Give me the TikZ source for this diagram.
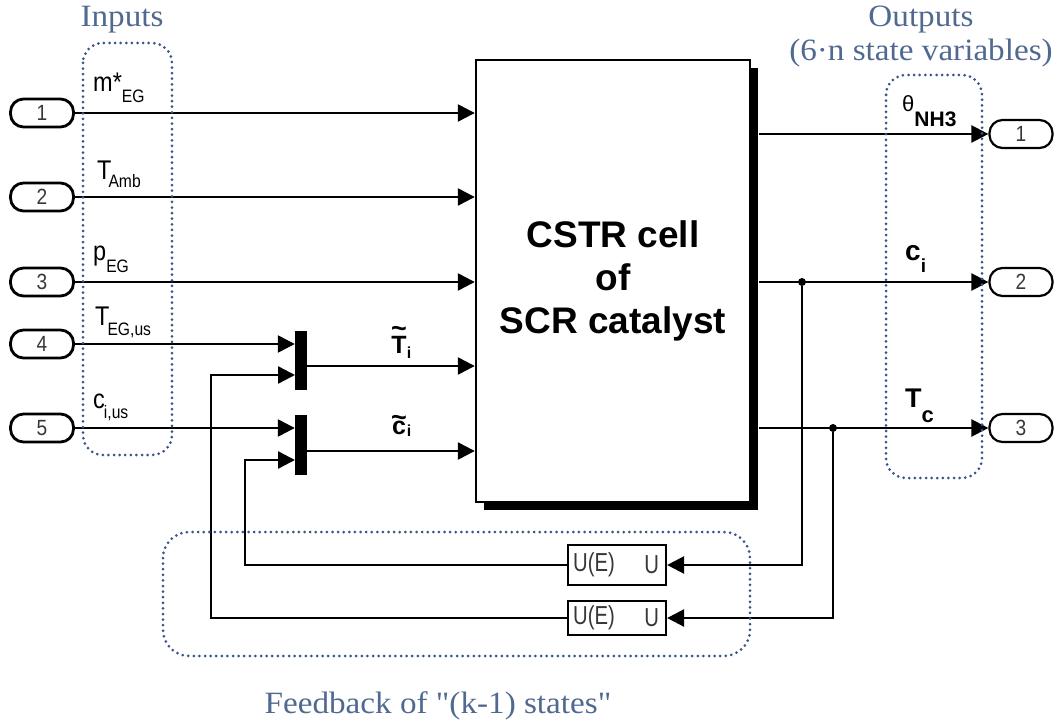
\documentclass[tikz,border=0pt]{standalone}
\usepackage{fontspec}
\setmainfont{Liberation Serif}[FakeStretch=1.07, Ligatures=TeXOff]
\setsansfont{Liberation Sans}
\newfontfamily\lblfont{Liberation Sans}[FakeStretch=0.87]
\newfontfamily\uefont{Liberation Sans}[FakeStretch=0.78]
\usetikzlibrary{arrows.meta,calc,shadows}
\definecolor{dotblue}{RGB}{55,85,135}
\definecolor{txtblue}{RGB}{80,105,145}
\definecolor{portgray}{RGB}{55,55,55}
\newcommand{\myfs}[1]{\fontsize{#1}{#1}\selectfont}
\newcommand{\lsub}[2][10]{\raisebox{-#1pt}{\myfs{18}#2}}
\newcommand{\tildeover}[2]{\leavevmode\vbox{\offinterlineskip\halign{\hfil##\hfil\cr{\myfs{27}\textasciitilde}\cr\noalign{\kern#2}#1\cr}}}
\begin{document}
\begin{tikzpicture}[x=1pt,y=-1pt,
  sig/.style={line width=2.4pt, -{Triangle[length=17pt,width=17pt]}},
  wire/.style={line width=2.4pt},
  port/.style={draw, line width=2.8pt, rounded corners=13pt, minimum width=63pt, minimum height=28pt, inner sep=0pt, font=\lblfont\myfs{22}, text=portgray},
  oport/.style={port, line width=2.2pt},
  muxbar/.style={fill=black, draw=none, minimum width=12pt, inner sep=0pt},
  uebox/.style={draw, line width=2.2pt, minimum width=98pt, inner sep=0pt},
  uetext/.style={inner sep=0pt, font=\uefont\myfs{26}, text=portgray},
  dotbox/.style={draw=dotblue, line width=3pt, dash pattern=on 0pt off 5.6pt, line cap=round, rounded corners=20pt},
  lbl/.style={anchor=base west, inner sep=0pt, font=\lblfont\myfs{27}},
  blbl/.style={anchor=base west, inner sep=0pt, font=\sffamily\bfseries},
  ttl/.style={anchor=base, inner sep=0pt, font=\myfs{31}, text=txtblue},
  bdot/.style={circle, fill=black, minimum size=8pt, inner sep=0pt}]

\useasboundingbox (0,0) rectangle (1064,727);

% main block
\node[draw, line width=2.4pt, fill=white, minimum width=274pt, minimum height=442pt,
      inner sep=0pt, align=center, font=\sffamily\bfseries\fontsize{37}{43}\selectfont,
      drop shadow={shadow xshift=8pt, shadow yshift=-8pt, opacity=1, fill=black}]
      (cstr) at (613,281) {CSTR cell\\of\\SCR catalyst};

% input ports
\node[port] (in1) at (42,113) {1};
\node[port] (in2) at (42,197) {2};
\node[port] (in3) at (42,282) {3};
\node[port] (in4) at (42,344) {4};
\node[port] (in5) at (42,428) {5};

% output ports
\node[oport] (out1) at (1021,134) {1};
\node[oport] (out2) at (1021,282) {2};
\node[oport] (out3) at (1021,428) {3};

% mux bars
\node[muxbar, minimum height=59pt] (mux1) at (301,360.5) {};
\node[muxbar, minimum height=60pt] (mux2) at (301,445) {};
\coordinate (m1a) at (mux1.west |- in4.east);
\coordinate (m1b) at (295,375);
\coordinate (m1o) at (307,366);
\coordinate (m2a) at (mux2.west |- in5.east);
\coordinate (m2b) at (295,460);
\coordinate (m2o) at (307,451);

% input signals
\draw[sig] (in1.east) -- (in1.east -| cstr.west);
\draw[sig] (in2.east) -- (in2.east -| cstr.west);
\draw[sig] (in3.east) -- (in3.east -| cstr.west);
\draw[sig] (in4.east) -- (m1a);
\draw[sig] (in5.east) -- (m2a);
\draw[sig] (m1o) -- (m1o -| cstr.west);
\draw[sig] (m2o) -- (m2o -| cstr.west);

% output signals
\coordinate (o1) at ($(cstr.east |- out1.west)+(8,0)$);
\coordinate (o2) at ($(cstr.east |- out2.west)+(8,0)$);
\coordinate (o3) at ($(cstr.east |- out3.west)+(8,0)$);
\draw[sig] (o1) -- (out1.west);
\draw[sig] (o2) -- (out2.west);
\draw[sig] (o3) -- (out3.west);

% branch points
\node[bdot] (bc) at (802,282) {};
\node[bdot] (bt) at (833,428) {};

% feedback blocks
\node[uebox, minimum height=40pt] (ue1) at (617,565) {};
\node[uebox, minimum height=34pt] (ue2) at (617,618) {};
\node[uetext, anchor=west] (ue1a) at ($(ue1.west)+(6,0)$) {U(E)};
\node[uetext, anchor=east] (ue1b) at ($(ue1.east)+(-8,0)$) {U};
\node[uetext, anchor=west] (ue2a) at ($(ue2.west)+(6,0)$) {U(E)};
\node[uetext, anchor=east] (ue2b) at ($(ue2.east)+(-8,0)$) {U};

\coordinate (k1) at (245,460);
\coordinate (k2) at (211,375);
\draw[sig] (bc) |- (ue1.east);
\draw[sig] (bt) |- (ue2.east);
\draw[sig] (ue1.west) -| (k1) -- (m2b);
\draw[sig] (ue2.west) -| (k2) -- (m1b);

% input labels
\node[lbl] (lm) at (93,92) {m*\lsub[11]{EG}};
\node[lbl] (lt) at (97,180) {T\kern-3pt\lsub[8]{Amb}};
\node[lbl] (lp) at (93,260) {p\lsub[12]{EG}};
\node[lbl] (lte) at (95,325) {T\kern-2pt\lsub[10]{EG,us}};
\node[lbl] (lc) at (93,408) {c\kern-1pt\lsub[10]{i,us}};

% mux output labels
\node[blbl] (lti) at (391,353) {\myfs{25}\tildeover{T}{-2pt}\raisebox{-5pt}{\myfs{16}i}};
\node[blbl] (lcc) at (391,434) {\myfs{25}\tildeover{c}{-6pt}\raisebox{-2pt}{\myfs{16}i}};

% output labels
\node[anchor=base west, inner sep=0pt] (lth) at (902,112) {{\sffamily\myfs{22}θ}\raisebox{-15pt}{\sffamily\bfseries\myfs{21}NH3}};
\node[blbl] (lci) at (905,260) {\myfs{28}c\raisebox{-12pt}{\myfs{19}i}};
\node[blbl] (ltc) at (905,407) {\myfs{27}T\raisebox{-15pt}{\myfs{22}c}};

% dotted groups
\draw[dotbox] (83,43) rectangle (172,455);
\draw[dotbox] (886,75) rectangle (982,478);
\draw[dotbox, rounded corners=26pt] (163,532) rectangle (750,656);

% titles
\node[ttl] (tin) at (122,27) {Inputs};
\node[ttl] (tout) at (921,27) {Outputs};
\node[ttl] (tout2) at (921,61) {(6·n state variables)};
\node[ttl] (tfb) at (438,713) {Feedback of "(k-1) states"};
\end{tikzpicture}
\end{document}
